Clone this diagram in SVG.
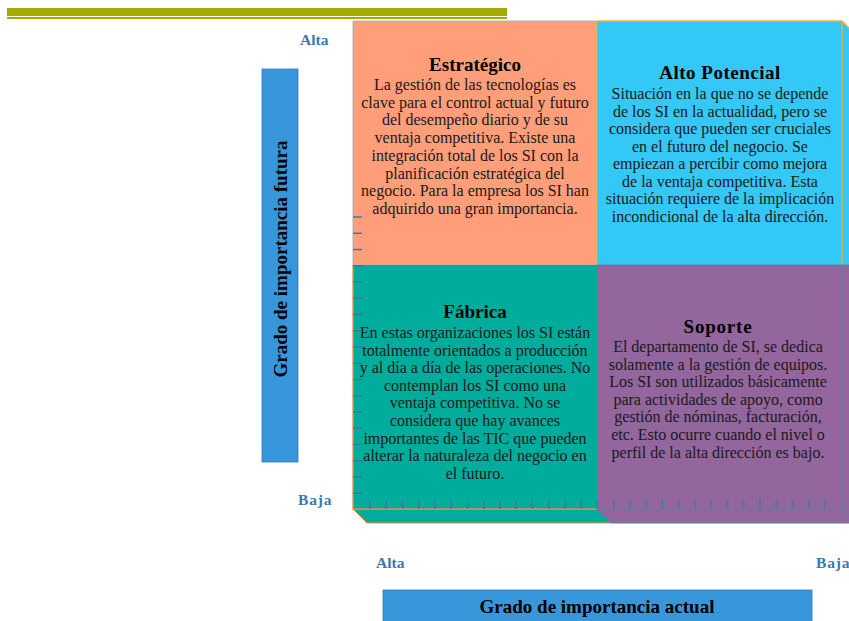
<svg xmlns="http://www.w3.org/2000/svg" width="849" height="621" viewBox="0 0 849 621">
<style>
.title{font-family:"Liberation Serif","Times New Roman",serif;font-weight:bold;font-size:19px;fill:#000;text-anchor:middle}
.body{font-family:"Liberation Serif","Times New Roman",serif;font-size:16px;fill:#1a1a1a;text-anchor:middle}
.axis{font-family:"Liberation Serif","Times New Roman",serif;font-weight:bold;font-size:19px;fill:#000;text-anchor:middle}
.lvl{font-family:"Liberation Serif","Times New Roman",serif;font-weight:bold;font-size:15.5px;fill:#3B78B0}
.tick{stroke:#3A78AE;stroke-width:1.3;fill:none}
</style>
<rect width="849" height="621" fill="#fff"/>
<g id="header-bars">
<rect x="7" y="8" width="500" height="8" fill="#A3AA00"/>
<rect x="7" y="17" width="500" height="2" fill="#A3AA00"/>
</g>

<g id="estrategico">
<rect x="353" y="21" width="244" height="244" fill="#FF9E79" stroke="#A9B4C2" stroke-width="1"/>
<text class="title" x="475" y="71">Estratégico</text>
<text class="body" x="475" y="90">La gestión de las tecnologías es</text>
<text class="body" x="475" y="107.7">clave para el control actual y futuro</text>
<text class="body" x="475" y="125.4">del desempeño diario y de su</text>
<text class="body" x="475" y="143.1">ventaja competitiva. Existe una</text>
<text class="body" x="475" y="160.8">integración total de los SI con la</text>
<text class="body" x="475" y="178.5">planificación estratégica del</text>
<text class="body" x="475" y="196.2">negocio. Para la empresa los SI han</text>
<text class="body" x="475" y="213.9">adquirido una gran importancia.</text>
</g>

<g id="alto-potencial">
<polygon points="842,21 849,28 849,265 842,265" fill="#33C8F5"/>
<rect x="597" y="21" width="245" height="244" fill="#33C8F5"/>
<path d="M597,21 H842 L849,28 M842,21 V265 M597,21 V265" stroke="#F2B233" stroke-width="1.3" fill="none"/>
<text class="title" x="720" y="79" letter-spacing="0.5">Alto Potencial</text>
<text class="body" x="720" y="99">Situación en la que no se depende</text>
<text class="body" x="720" y="116.5">de los SI en la actualidad, pero se</text>
<text class="body" x="720" y="134">considera que pueden ser cruciales</text>
<text class="body" x="720" y="151.5">en el futuro del negocio. Se</text>
<text class="body" x="720" y="169">empiezan a percibir como mejora</text>
<text class="body" x="720" y="186.5">de la ventaja competitiva. Esta</text>
<text class="body" x="720" y="204">situación requiere de la implicación</text>
<text class="body" x="720" y="221.5">incondicional de la alta dirección.</text>
</g>

<g id="fabrica">
<polygon points="353,509 597,509 611,523 367,523" fill="#00AC9C" stroke="#F08A45" stroke-width="1"/>
<rect x="353" y="265" width="244" height="244" fill="#00AC9C"/>
<path d="M353,265 V509 H597" stroke="#F08A45" stroke-width="1.3" fill="none"/>
<text class="title" x="475" y="318">Fábrica</text>
<text class="body" x="475" y="338">En estas organizaciones los SI están</text>
<text class="body" x="475" y="355.6">totalmente orientados a producción</text>
<text class="body" x="475" y="373.2">y al día a día de las operaciones. No</text>
<text class="body" x="475" y="390.8">contemplan los SI como una</text>
<text class="body" x="475" y="408.4">ventaja competitiva. No se</text>
<text class="body" x="475" y="426">considera que hay avances</text>
<text class="body" x="475" y="443.6">importantes de las TIC que pueden</text>
<text class="body" x="475" y="461.2">alterar la naturaleza del negocio en</text>
<text class="body" x="475" y="478.8">el futuro.</text>
</g>

<g id="soporte">
<polygon points="597,509 842,509 849,516 849,523 611,523" fill="#93669E"/>
<polygon points="842,265 849,265 849,516 842,509" fill="#93669E"/>
<rect x="597" y="265" width="245" height="244" fill="#93669E"/>
<path d="M597,265 H842 V509 H597 M842,509 L849,516 M597,509 L611,523 H849 M842,265 H849" stroke="#5E7FA8" stroke-width="1.2" fill="none"/>
<text class="title" x="718" y="333" letter-spacing="0.8">Soporte</text>
<text class="body" x="718" y="352">El departamento de SI, se dedica</text>
<text class="body" x="718" y="369.6">solamente a la gestión de equipos.</text>
<text class="body" x="718" y="387.2">Los SI son utilizados básicamente</text>
<text class="body" x="718" y="404.8">para actividades de apoyo, como</text>
<text class="body" x="718" y="422.4">gestión de nóminas, facturación,</text>
<text class="body" x="718" y="440">etc. Esto ocurre cuando el nivel o</text>
<text class="body" x="718" y="457.6">perfil de la alta dirección es bajo.</text>
</g>

<g id="ticks">
<path class="tick" d="M370,500V509M386.25,500V509M402.5,500V509M418.75,500V509M435,500V509M451.25,500V509M467.5,500V509M483.75,500V509M500,500V509M516.25,500V509M532.5,500V509M548.75,500V509M565,500V509M581.25,500V509M597.5,500V509M613.75,500V509M630,500V509M646.25,500V509M662.5,500V509M678.75,500V509M695,500V509M711.25,500V509M727.5,500V509M743.75,500V509M760,500V509M776.25,500V509M792.5,500V509M808.75,500V509M825,500V509"/>
<path class="tick" d="M353,217H362M353,233.25H362M353,249.5H362M353,265.75H362M353,282H362M353,298.25H362M353,314.5H362M353,330.75H362M353,347H362M353,363.25H362M353,379.5H362M353,395.75H362M353,412H362M353,428.25H362M353,444.5H362M353,460.75H362M353,477H362M353,493.25H362"/>
</g>

<g id="eje-vertical">
<rect x="262" y="69" width="36" height="393" fill="#3897DA" stroke="#2F7BB8" stroke-width="0.8"/>
<text class="axis" transform="translate(287,259) rotate(-90)" x="0" y="0">Grado de importancia futura</text>
<text class="lvl" x="300" y="45">Alta</text>
<text class="lvl" x="298" y="505" letter-spacing="0.8">Baja</text>
</g>

<g id="eje-horizontal">
<rect x="383" y="590" width="429" height="40" fill="#3897DA" stroke="#2F7BB8" stroke-width="0.8"/>
<text class="axis" x="597" y="613">Grado de importancia actual</text>
<text class="lvl" x="376" y="568">Alta</text>
<text class="lvl" x="816" y="568" letter-spacing="0.8">Baja</text>
</g>
</svg>
